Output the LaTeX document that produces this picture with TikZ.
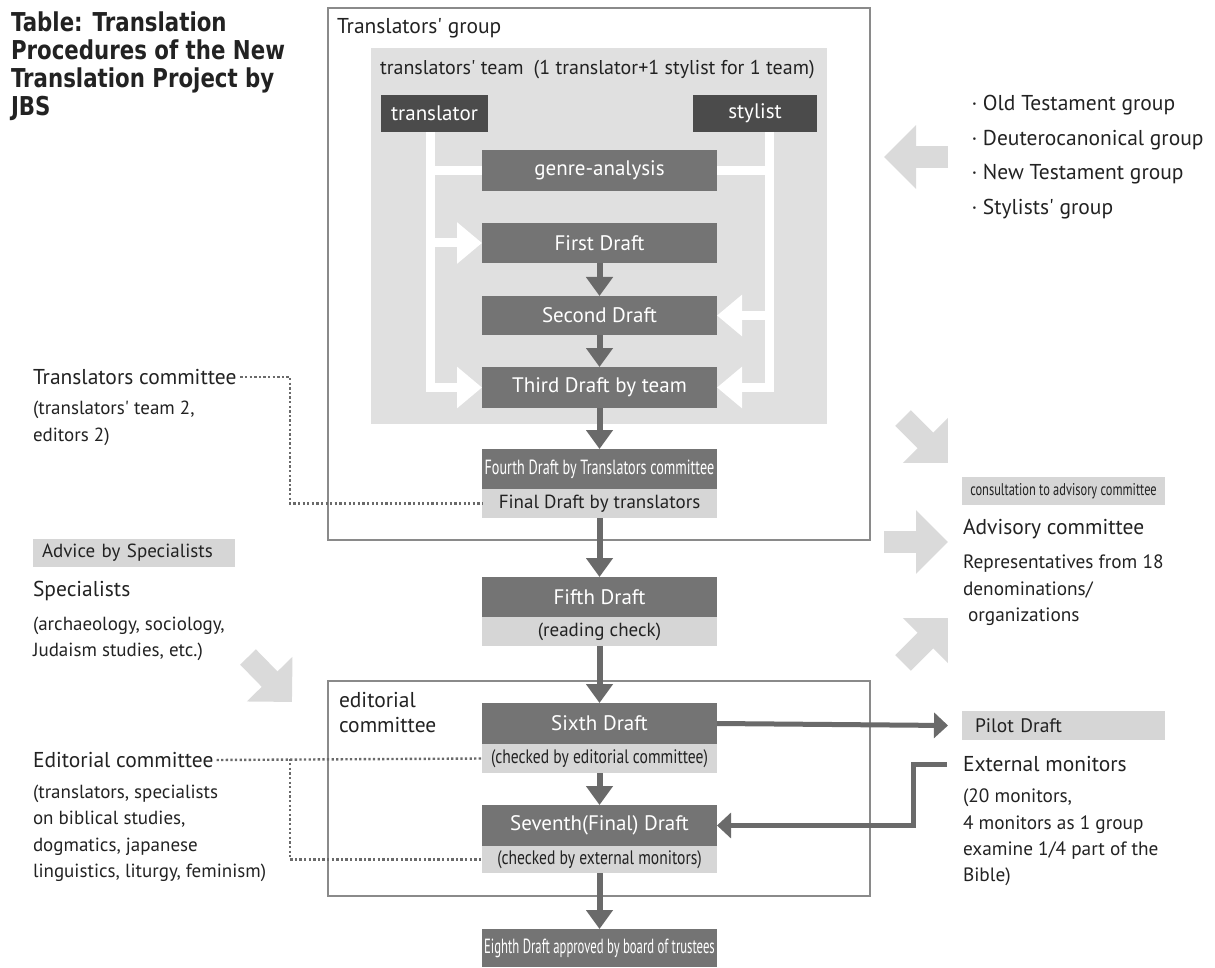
\documentclass[tikz,border=0pt]{standalone}
\usepackage{fontspec}
\setmainfont{PT Sans}[Ligatures=TeXOff]
\newfontfamily\titlefont{DejaVu Sans}[FakeStretch=0.82]
\newfontfamily\condfont{PT Sans}[FakeStretch=0.8,Ligatures=TeXOff]
\newfontfamily\smallcondfont{PT Sans}[FakeStretch=0.73,Ligatures=TeXOff]
\newfontfamily\narrowfont{PT Sans}[FakeStretch=0.69,Ligatures=TeXOff]
\newfontfamily\xnarrowfont{PT Sans}[FakeStretch=0.62,Ligatures=TeXOff]
\usetikzlibrary{arrows.meta}
\definecolor{dk}{HTML}{4B4B4B}
\definecolor{md}{HTML}{747474}
\definecolor{lt}{HTML}{D6D6D6}
\definecolor{bg}{HTML}{E0E0E0}
\definecolor{bd}{HTML}{8A8A8A}
\definecolor{ar}{HTML}{6A6A6A}
\definecolor{bigar}{HTML}{DADADA}
\definecolor{tx}{HTML}{222222}
\newcommand\fsz[2]{\fontsize{#1}{#2}\selectfont}
\begin{document}
\begin{tikzpicture}[x=1pt,y=-1pt,
  every node/.style={inner sep=0pt, outer sep=0pt, text=tx},
  midbox/.style={fill=md, text=white, minimum width=235pt, font=\fsz{21}{24}},
  ltbox/.style={fill=lt, text=tx, minimum width=235pt},
  darkbox/.style={fill=dk, text=white, minimum height=37pt, font=\fsz{21}{24}},
  grp/.style={draw=bd, line width=2pt},
  darr/.style={draw=ar, line width=6pt, -{Triangle[width=26pt,length=19pt]}},
  tarr/.style={draw=ar, line width=5pt, -{Triangle[width=25pt,length=14pt]}},
  warr/.style={draw=white, line width=9pt, -{Triangle[width=40pt,length=25pt]}},
  wline/.style={draw=white, line width=9pt},
  dots/.style={draw=ar, line width=2.4pt, dash pattern=on 2.3pt off 2.3pt},
  big/.style={draw=bigar, line width=22pt, -{Triangle[width=62pt,length=32pt]}},
  lbl/.style={anchor=west, font=\fsz{21.5}{24}},
  blk/.style={anchor=north west, align=left},
]
\useasboundingbox (0,0) rectangle (1215,968);

% title
\node[blk, font=\titlefont\bfseries\fsz{26}{28}] (title) at (11,12)
  {Table: Translation\\Procedures of the New\\Translation Project by\\JBS};

% group frames
\node[grp, minimum width=542pt, minimum height=532pt] (tgroup) at (599,274) {};
\node[lbl] (tglabel) at (337,28) {Translators' group};
\node[fill=bg, minimum width=456pt, minimum height=376pt] (team) at (599,236) {};
\node[lbl, font=\fsz{20}{24}] (teamlabel) at (380,70) {translators' team\enspace(1 translator+1 stylist for 1 team)};
\node[grp, minimum width=542pt, minimum height=215pt] (egroup) at (599,788.5) {};
\node[blk, font=\fsz{21.5}{25}] (elabel) at (339,692) {editorial\\committee};

% team members
\node[darkbox, minimum width=107pt] (tr) at (434.5,113.5) {translator};
\node[darkbox, minimum width=124pt] (st) at (755,113.5) {stylist};
\coordinate (lx) at (430,0);
\coordinate (rx) at (769,0);

% drafts
\node[midbox, minimum height=41pt] (genre) at (599.5,170.5) {genre-analysis};
\node[midbox, minimum height=40pt] (first) at (599.5,243) {First Draft};
\node[midbox, minimum height=39pt] (second) at (599.5,315.5) {Second Draft};
\node[midbox, minimum height=41pt] (third) at (599.5,387.5) {Third Draft by team};
\node[midbox, minimum height=40pt, font=\narrowfont\fsz{20.5}{22}] (fourth) at (599.5,469) {Fourth Draft by Translators committee};
\node[ltbox, minimum height=29pt, font=\fsz{19}{22}] (final) at (599.5,503.5) {Final Draft by translators};
\node[midbox, minimum height=40pt] (fifth) at (599.5,597) {Fifth Draft};
\node[ltbox, minimum height=29pt, font=\fsz{19}{22}] (reading) at (599.5,631.5) {(reading check)};
\node[midbox, minimum height=41pt] (sixth) at (599.5,723.5) {Sixth Draft};
\node[ltbox, minimum height=29pt, font=\condfont\fsz{19.5}{22}] (chk1) at (599.5,758.5) {(checked by editorial committee)};
\node[midbox, minimum height=41pt] (seventh) at (599.5,825.5) {Seventh(Final) Draft};
\node[ltbox, minimum height=27pt, font=\condfont\fsz{19.5}{22}] (chk2) at (599.5,859.5) {(checked by external monitors)};
\node[midbox, minimum height=38pt, font=\xnarrowfont\fsz{20.5}{22}] (eighth) at (599.5,948) {Eighth Draft approved by board of trustees};

% white connectors in the team
\draw[wline] (lx |- genre) -- (genre.west);
\draw[wline] (rx |- genre) -- (genre.east);
\draw[warr] (lx |- first) -- (first.west);
\draw[warr] (rx |- second) -- (second.east);
\draw[warr] (tr.south -| lx) |- (third.west);
\draw[warr] (st.south -| rx) |- (third.east);

% dark arrows
\draw[darr] (first.south) -- (second.north);
\draw[darr] (second.south) -- (third.north);
\draw[darr] (third.south) -- (fourth.north);
\draw[darr] (final.south) -- (fifth.north);
\draw[darr] (reading.south) -- (sixth.north);
\draw[darr] (chk1.south) -- (seventh.north);
\draw[darr] (chk2.south) -- (eighth.north);

% right side
\node[blk, font=\fsz{21.5}{34.7}] (groups) at (966,95)
  {\makebox[17pt][c]{·}Old Testament group\\\makebox[17pt][c]{·}Deuterocanonical group\\\makebox[17pt][c]{·}New Testament group\\\makebox[17pt][c]{·}Stylists' group};
\node[fill=lt, minimum width=203pt, minimum height=28pt, font=\smallcondfont\fsz{17}{18}] (consult) at (1063.5,491) {consultation to advisory committee};
\node[lbl] (adv) at (963,529) {Advisory committee};
\node[blk, font=\fsz{19.3}{26.5}] (advd) at (963,555)
  {Representatives from 18\\denominations/\\\hspace{5pt}organizations};
\node[fill=lt, anchor=west, minimum width=203pt, minimum height=29pt, inner xsep=13pt, text width=177pt, align=left, font=\fsz{19.5}{22}] (pilot) at (962,725.5) {Pilot Draft};
\node[lbl] (ext) at (963,764) {External monitors};
\node[blk, font=\fsz{19.3}{26.4}] (extd) at (963,789)
  {(20 monitors,\\4 monitors as 1 group\\examine 1/4 part of the\\Bible)};
\coordinate (extin) at (947,764);
\draw[tarr] (sixth.east) -- ([xshift=-14pt]pilot.west);
\draw[tarr] (extin) -- (913,764) |- (seventh.east);

% left side
\node[lbl] (tc) at (33,377) {Translators committee};
\node[blk, font=\fsz{19}{27}] (tcd) at (33,401) {(translators' team 2,\\editors 2)};
\node[fill=lt, anchor=west, minimum width=202pt, minimum height=28pt, inner xsep=9pt, text width=184pt, align=left, font=\fsz{19}{22}] (advice) at (33,553) {Advice by Specialists};
\node[lbl] (spec) at (33,591) {Specialists};
\node[blk, font=\fsz{19}{26}] (specd) at (33,617) {(archaeology, sociology,\\Judaism studies, etc.)};
\node[lbl] (ec) at (33,760) {Editorial committee};
\node[blk, font=\fsz{19}{26.4}] (ecd) at (33,785)
  {(translators, specialists\\on biblical studies,\\dogmatics, japanese\\linguistics, liturgy, feminism)};

\coordinate (dx) at (290,0);
\draw[dots] ([xshift=4pt]tc.east) -| (dx |- final.west) -- (final.west);
\draw[dots] ([xshift=3pt]ec.east) -- (chk1.west);
\draw[dots] (dx |- chk1.west) |- (chk2.west);

% big gray arrows
\draw[big] (948,157) -- (884,157);
\draw[big] (903,418) -- (948,463);
\draw[big] (884,542) -- (948,542);
\draw[big] (903,663) -- (948,618);
\draw[big] (248,657) -- (292,702);
\end{tikzpicture}
\end{document}
